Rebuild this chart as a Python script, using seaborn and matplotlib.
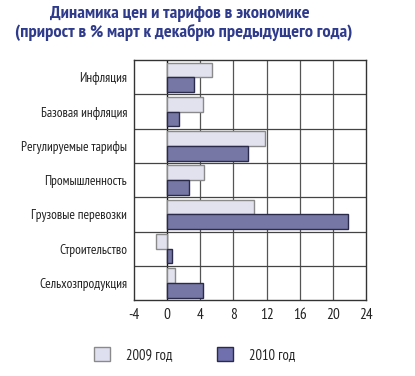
import matplotlib
matplotlib.use('Agg')
import matplotlib.pyplot as plt
import matplotlib.patches as mpatches
import pandas as pd
import seaborn as sns

categories = ['Инфляция', 'Базовая инфляция', 'Регулируемые тарифы', 'Промышленность',
              'Грузовые перевозки', 'Строительство', 'Сельхозпродукция']
values_2009 = [5.4, 4.3, 11.8, 4.4, 10.5, -1.3, 0.9]
values_2010 = [3.2, 1.4, 9.7, 2.6, 21.8, 0.6, 4.3]
series = ['2009 год', '2010 год']
x_ticks = [-4, 0, 4, 8, 12, 16, 20, 24]

df = pd.DataFrame({
    'cat': categories * 2,
    'val': values_2009 + values_2010,
    'year': [series[0]] * len(categories) + [series[1]] * len(categories),
})

sns.set_style('white')
plt.rcParams['font.family'] = ['PT Sans Narrow', 'DejaVu Sans']

colors = ['#dfe0ef', '#6f70ad']
edges = ['#8a8a8a', '#2a2a4a']

fig = plt.figure(figsize=(4.15, 3.76), dpi=100)
ax = fig.add_axes([0.323, 0.202, 0.559, 0.638])

sns.barplot(data=df, y='cat', x='val', hue='year', order=categories, hue_order=series,
            palette=colors, orient='h', width=0.86, ax=ax, legend=False)

# edges per series
n = len(categories)
for i, p in enumerate(ax.patches[:2 * n]):
    p.set_edgecolor(edges[i // n])
    p.set_linewidth(1.0)
    p.set_zorder(3)

ax.set_xlim(-4, 24)
ax.set_ylim(n - 0.5, -0.5)
ax.set_xticks(x_ticks)
ax.set_xticklabels([str(t) for t in x_ticks], fontsize=11)
ax.tick_params(axis='y', labelsize=9.6, length=0, pad=5, labelcolor='#222222')
ax.tick_params(axis='x', length=0, pad=6, labelcolor='#222222')
ax.set_xlabel('')
ax.set_ylabel('')

for t in x_ticks[1:-1]:
    ax.axvline(t, color='#111111' if t == 0 else '#555555', lw=1.0 if t == 0 else 0.9, zorder=1)
for k in range(n - 1):
    ax.axhline(k + 0.5, color='#444444', lw=0.9, zorder=1)
for s in ax.spines.values():
    s.set_color('#333333')
    s.set_linewidth(1.0)

title_color = '#2e3a8c'
fig.text(0.434, 0.963, 'Динамика цен и тарифов в экономике', ha='center', va='center',
         fontsize=13.3, fontweight='bold', color=title_color)
fig.text(0.442, 0.913, '(прирост в % март к декабрю предыдущего года)', ha='center', va='center',
         fontsize=13.3, fontweight='bold', color=title_color)

handles = [mpatches.Patch(facecolor=colors[i], edgecolor=edges[i], label=series[i]) for i in range(2)]
fig.legend(handles=handles, loc='center', bbox_to_anchor=(0.469, 0.058), ncol=2, frameon=False,
           fontsize=10.5, handlelength=1.1, handleheight=1.1, columnspacing=3.0, handletextpad=1.15)

fig.savefig('out.png', dpi=100)
